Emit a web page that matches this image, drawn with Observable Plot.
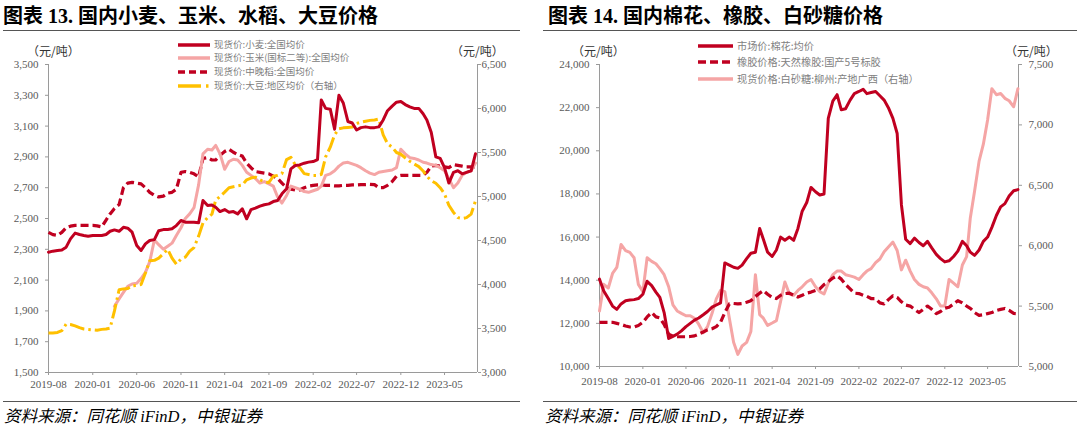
<!DOCTYPE html>
<html><head><meta charset="utf-8">
<script src="https://cdn.jsdelivr.net/npm/d3@7"></script>
<script src="https://cdn.jsdelivr.net/npm/@observablehq/plot@0.6"></script>
<style>
body{margin:0;background:#fff;width:1080px;height:435px;position:relative;overflow:hidden;font-family:"Liberation Serif","Noto Sans CJK SC",serif;}
.abs{position:absolute;white-space:nowrap;}
.title{font-size:20px;font-weight:bold;color:#000;top:4px;line-height:24px;font-family:"Liberation Serif","Noto Sans CJK SC",serif;}
.rule{position:absolute;height:0;border-top:1.5px solid #555;}
.unit{font-size:12px;color:#333;top:43px;line-height:16px;font-family:"Noto Sans CJK SC",sans-serif;}
.foot{font-size:16.5px;font-style:italic;top:405px;line-height:24px;font-family:"Liberation Serif","Noto Sans CJK SC",serif;color:#000;}
.leg{color:#808080;font-family:"Noto Sans CJK SC",sans-serif;}
.chart{position:absolute;top:40px;}
</style></head><body>
<div class="abs title" style="left:3px">图表 13. 国内小麦、玉米、水稻、大豆价格</div>
<div class="abs title" style="left:548px">图表 14. 国内棉花、橡胶、白砂糖价格</div>
<div class="rule" style="left:3px;width:517px;top:30px"></div>
<div class="rule" style="left:543px;width:534px;top:30px"></div>
<div class="rule" style="left:3px;width:517px;top:401px"></div>
<div class="rule" style="left:543px;width:534px;top:401px"></div>
<div class="abs foot" style="left:4px">资料来源：同花顺 iFinD，中银证券</div>
<div class="abs foot" style="left:545px">资料来源：同花顺 iFinD，中银证券</div>
<div class="abs unit" style="left:27px">（元/吨）</div>
<div class="abs unit" style="left:451px">（元/吨）</div>
<div class="abs unit" style="left:572px">（元/吨）</div>
<div class="abs unit" style="left:1005px">（元/吨）</div>
<div id="c1" class="chart" style="left:0px"></div>
<div id="c2" class="chart" style="left:540px"></div>
<script>
// ---------- shared semi-monthly date grid (1st and 16th of each month, 2019-08-01 .. 2023-08-16)
const dates = d3.range(98).map(h => new Date(Date.UTC(2019, 7 + Math.floor(h / 2), h % 2 ? 16 : 1)));
const tickDates = ["2019-08-01","2020-01-01","2020-06-01","2020-11-01","2021-04-01","2021-09-01","2022-02-01","2022-07-01","2022-12-01","2023-05-01"].map(s => new Date(s));

// ---------- Chart 13 data (元/吨)
const wheat = [2281,2288,2292,2296,2314,2368,2405,2396,2390,2385,
 2390,2390,2390,2396,2417,2426,2417,2443,2437,2411,
 2324,2292,2335,2357,2363,2421,2428,2428,2433,2454,
 2487,2476,2476,2476,2472,2617,2584,2588,2573,2545,
 2558,2541,2545,2530,2563,2498,2558,2567,2580,2589,
 2595,2610,2617,2660,2693,2822,2844,2848,2859,2866,
 2870,2883,3270,3215,3210,3080,3300,3250,3130,3120,
 3075,3090,3095,3090,3090,3095,3140,3200,3230,3255,
 3260,3240,3225,3215,3215,3180,3140,3060,2900,2890,
 2830,2730,2800,2810,2790,2800,2810,2920];
const cornStart = 15; // corn series begins 2020-04-01
const corn = [1930,1978,2020,2060,2075,2080,2110,2150,2220,2360,
 2330,2300,2320,2340,2390,2440,2500,2530,2570,2720,
 2920,2950,2945,2975,2920,2820,2870,2885,2880,2845,
 2800,2780,2760,2730,2740,2725,2710,2640,2600,2650,
 2710,2700,2690,2675,2670,2680,2690,2710,2780,2790,
 2810,2840,2860,2865,2855,2845,2830,2810,2795,2785,
 2800,2805,2810,2815,2830,2950,2920,2895,2890,2880,
 2865,2860,2850,2845,2830,2810,2760,2700,2730,2780,
 2800,2810,2860];
const rice = [2410,2395,2390,2410,2440,2450,2455,2455,2455,2455,
 2455,2452,2445,2490,2530,2565,2590,2700,2730,2735,
 2730,2725,2700,2670,2650,2640,2645,2665,2670,2690,
 2800,2805,2800,2790,2770,2890,2895,2880,2880,2910,
 2935,2950,2930,2915,2905,2860,2830,2805,2800,2795,
 2790,2775,2760,2730,2700,2690,2685,2685,2700,2710,
 2715,2718,2718,2715,2715,2712,2712,2715,2715,2718,
 2718,2720,2720,2722,2720,2700,2700,2715,2740,2775,
 2780,2780,2780,2780,2780,2780,2800,2840,2845,2840,
 2835,2830,2850,2845,2840,2835,2835,2830];
const soybean = [3450,3450,3455,3475,3550,3545,3530,3510,3495,3490,
 3485,3480,3490,3495,3505,3700,3940,3950,3955,3985,
 3990,4000,4130,4270,4275,4300,4350,4400,4300,4230,
 4290,4310,4380,4420,4550,4700,4760,4800,4960,5000,
 5050,5100,5110,5120,5130,5190,5210,5220,5190,5165,
 5160,5230,5240,5260,5420,5445,5360,5330,5260,5250,
 5240,5240,5250,5450,5560,5700,5770,5780,5785,5790,
 5830,5845,5855,5865,5870,5880,5700,5600,5560,5500,
 5480,5440,5400,5370,5340,5290,5230,5180,5150,5100,
 5030,4900,4820,4760,4750,4760,4800,4950];
const leftTicks1 = [1500,1700,1900,2100,2300,2500,2700,2900,3100,3300,3500];
const rightTicks1 = [3000,3500,4000,4500,5000,5500,6000,6500];

// ---------- Chart 14 data (元/吨)
const cotton = [14050,13500,13150,12800,12650,12900,13050,13080,13100,13150,
 13350,13950,13750,13450,13200,12500,11300,11400,11500,11650,
 11850,12000,12150,12250,12400,12550,12750,12850,12950,14800,
 14700,14600,14550,14700,15000,15250,15300,16400,15900,15300,
 15100,15400,16000,15850,16000,15850,16400,17200,17600,18300,
 18100,17950,18000,21500,22300,22600,21900,21950,22350,22650,
 22750,22850,22650,22700,22750,22550,22350,22000,21500,20800,
 17500,15900,15700,15950,15750,15600,15800,15500,15200,15000,
 14850,14900,15100,15350,15800,15600,15300,15150,15400,15800,
 16000,16450,17000,17400,17550,17900,18150,18200];
const rubber = [12050,12050,12050,12050,12000,11950,11880,11830,11830,11900,
 12050,12300,12500,12300,12250,11950,11500,11400,11380,11380,
 11380,11390,11420,11500,11600,11700,11750,11850,12050,12500,
 12900,12920,12900,12920,12980,13050,13250,13400,13520,13350,
 13200,13150,13300,13380,13400,13300,13220,13300,13400,13450,
 13520,13600,13800,13930,14100,14200,14050,13800,13600,13400,
 13380,13300,13250,13150,13150,12950,12900,13100,13280,13200,
 13000,12850,12800,12650,12500,12650,12800,12650,12450,12550,
 12700,12750,12900,13050,12950,12800,12700,12500,12370,12400,
 12450,12500,12600,12650,12690,12600,12460,12450];
const sugar = [5460,5680,5650,5770,5820,6010,5960,5945,5900,5680,
 5620,5900,5870,5850,5810,5760,5660,5510,5460,5440,
 5420,5420,5400,5350,5280,5330,5440,5560,5630,5620,
 5400,5200,5100,5170,5200,5290,5760,5430,5400,5340,
 5360,5380,5540,5700,5600,5590,5630,5660,5700,5720,
 5660,5620,5600,5690,5760,5790,5790,5760,5750,5740,
 5720,5760,5790,5810,5860,5890,5950,5990,6030,5960,
 5800,5880,5790,5720,5680,5660,5650,5610,5560,5500,
 5500,5720,5690,5660,5840,5910,6230,6450,6700,6840,
 7040,7300,7250,7260,7220,7200,7150,7300];
const leftTicks2 = [10000,12000,14000,16000,18000,20000,22000,24000];
const rightTicks2 = [5000,5500,6000,6500,7000,7500];

// ---------- colours
const RED = "#C00020", PINK = "#F5A5A5", YELLOW = "#FFC000", AXIS = "#9a9a9a", LABEL = "#595959";

const toRows = (vals, offset = 0) => vals.map((v, i) => ({date: dates[i + offset], v}));

function dualChart({L, R, leftTicks, rightTicks, end, width, margins, rightPad, xPad, series}) {
  const toL = v => L[0] + (v - R[0]) * (L[1] - L[0]) / (R[1] - R[0]);
  const fromL = v => R[0] + (v - L[0]) * (R[1] - R[0]) / (L[1] - L[0]);
  const fmt = d3.format(",");
  const lineMarks = series.map(s => Plot.line(
    toRows(s.values, s.offset || 0).map(d => ({date: d.date, v: s.right ? toL(d.v) : d.v})),
    {x: "date", y: "v", stroke: s.color, strokeWidth: s.width || 3,
     strokeDasharray: s.dash, strokeLinecap: s.dash ? "butt" : "round", strokeLinejoin: "round"}));
  return Plot.plot({
    width, height: 360,
    marginLeft: margins[0], marginRight: margins[1], marginTop: margins[2], marginBottom: margins[3],
    style: {fontFamily: "'Liberation Serif','Times New Roman',serif", fontSize: "11px", background: "transparent"},
    x: {type: "utc", domain: [dates[0], end], label: null},
    y: {domain: L, label: null},
    marks: [
      Plot.ruleX([dates[0]], {stroke: AXIS, strokeWidth: 1}),
      Plot.ruleX([end], {stroke: AXIS, strokeWidth: 1}),
      Plot.ruleY([L[0]], {stroke: AXIS, strokeWidth: 1}),
      Plot.axisY({ticks: leftTicks, tickFormat: fmt, tickSize: 3, tickPadding: 7, stroke: AXIS, fill: LABEL, label: null}),
      Plot.axisY({anchor: "right", ticks: rightTicks.map(toL), tickFormat: d => fmt(Math.round(fromL(d))), tickSize: 3, tickPadding: rightPad, stroke: AXIS, fill: LABEL, label: null}),
      Plot.axisX({ticks: tickDates, tickFormat: d3.utcFormat("%Y-%m"), tickSize: 3, tickPadding: xPad, stroke: AXIS, fill: LABEL, label: null}),
      ...lineMarks
    ]
  });
}

document.getElementById("c1").append(dualChart({
  L: [1500, 3500], R: [3000, 6500], leftTicks: leftTicks1, rightTicks: rightTicks1,
  end: new Date(Date.UTC(2023, 7, 23)), width: 520, margins: [48, 43, 24, 28], rightPad: 1, xPad: 5,
  series: [
    {values: rice, color: RED, dash: "8,4", width: 3.2},
    {values: corn, offset: cornStart, color: PINK, width: 3},
    {values: soybean, right: true, color: YELLOW, dash: "15,4,2.5,4", width: 3},
    {values: wheat, color: RED, width: 3}
  ]
}));

document.getElementById("c2").append(dualChart({
  L: [10000, 24000], R: [5000, 7500], leftTicks: leftTicks2, rightTicks: rightTicks2,
  end: new Date(Date.UTC(2023, 7, 18)), width: 540, margins: [59, 62, 24, 34], rightPad: 7, xPad: 8,
  series: [
    {values: sugar, right: true, color: PINK, width: 3},
    {values: rubber, color: RED, dash: "8,4", width: 3.2},
    {values: cotton, color: RED, width: 3}
  ]
}));

// ---------- legends (HTML)
function legend(items, x0, x1, tx, ys, fs) {
  items.forEach((it, i) => {
    const y = ys[i];
    const svg = d3.create("svg").attr("width", x1 - x0 + 2).attr("height", 8)
      .style("position", "absolute").style("left", x0 + "px").style("top", (y - 4) + "px");
    if (it.dot) {
      svg.append("line").attr("x1", 0).attr("x2", x1 - x0 - 9).attr("y1", 4).attr("y2", 4)
        .attr("stroke", it.color).attr("stroke-width", 3.5);
      svg.append("line").attr("x1", x1 - x0 - 4).attr("x2", x1 - x0 - 1.5).attr("y1", 4).attr("y2", 4)
        .attr("stroke", it.color).attr("stroke-width", 3.5);
    } else {
      svg.append("line").attr("x1", 0).attr("x2", x1 - x0).attr("y1", 4).attr("y2", 4)
        .attr("stroke", it.color).attr("stroke-width", 3.5).attr("stroke-dasharray", it.dash || null);
    }
    document.body.append(svg.node());
    const t = document.createElement("div");
    t.className = "abs leg";
    t.style.left = tx + "px"; t.style.top = (y - fs * 0.7) + "px";
    t.style.fontSize = fs + "px"; t.style.lineHeight = (fs * 1.4) + "px";
    t.textContent = it.label;
    document.body.append(t);
  });
}
legend([
  {label: "现货价:小麦:全国均价", color: RED},
  {label: "现货价:玉米(国标二等):全国均价", color: PINK},
  {label: "现货价:中晚稻:全国均价", color: RED, dash: "7,4"},
  {label: "现货价:大豆:地区均价（右轴）", color: YELLOW, dot: true}
], 178, 210, 214, [44.5, 58, 72, 86], 9.5);
legend([
  {label: "市场价:棉花:均价", color: RED},
  {label: "橡胶价格:天然橡胶:国产5号标胶", color: RED, dash: "8,4"},
  {label: "现货价格:白砂糖:柳州:产地广西（右轴）", color: PINK}
], 698, 733, 737, [46, 62, 79], 10.2);
</script>
</body></html>
